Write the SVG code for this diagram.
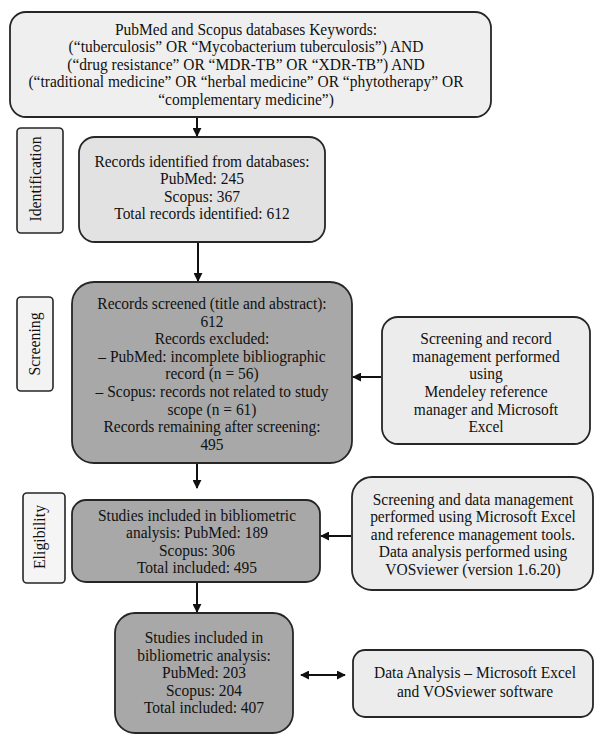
<svg xmlns="http://www.w3.org/2000/svg" width="595" height="735" viewBox="0 0 595 735">
<defs>
<style>
text{font-family:"Liberation Serif","Times New Roman",serif;font-size:17px;fill:#111;text-anchor:middle}
.t{transform-box:fill-box;transform-origin:center;transform:scaleX(0.91)}
.box{stroke:#262626;stroke-width:1.8}
.lbl{stroke:#262626;stroke-width:1.6}
.light{fill:#efefef}
.mid{fill:#e2e2e2}
.dark{fill:#a8a8a8}
.side{fill:#ececec}
.con{stroke:#111;stroke-width:2;fill:none}
</style>
<marker id="ah" viewBox="0 0 10 10" refX="9" refY="5" markerWidth="4.5" markerHeight="4.5" orient="auto-start-reverse" markerUnits="strokeWidth">
<path d="M0,0 L10,5 L0,10 z" fill="#111"/>
</marker>
</defs>
<rect width="595" height="735" fill="#fff"/>

<g id="keywords">
<rect class="box light" x="10" y="12" width="481" height="105" rx="16"/>
<text class="t" x="246" y="35">PubMed and Scopus databases Keywords:</text>
<text class="t" x="246" y="52.5">(“tuberculosis” OR “Mycobacterium tuberculosis”) AND</text>
<text class="t" x="246" y="70">(“drug resistance” OR “MDR-TB” OR “XDR-TB”) AND</text>
<text class="t" x="246" y="87.5">(“traditional medicine” OR “herbal medicine” OR “phytotherapy” OR</text>
<text class="t" x="246" y="105">“complementary medicine”)</text>
</g>

<g id="label-identification">
<rect class="lbl side" x="17" y="128" width="46" height="105" rx="4"/>
<text transform="translate(41,179) rotate(-90) scale(0.93,1)">Identification</text>
</g>

<g id="identified">
<rect class="box mid" x="79" y="137" width="246" height="105" rx="16"/>
<text class="t" x="202" y="167">Records identified from databases:</text>
<text class="t" x="202" y="184.5">PubMed: 245</text>
<text class="t" x="202" y="202">Scopus: 367</text>
<text class="t" x="202" y="219.5">Total records identified: 612</text>
</g>

<g id="label-screening">
<rect class="lbl" fill="#f3f3f3" x="17" y="297" width="36" height="94" rx="4"/>
<text transform="translate(40,344) rotate(-90) scale(0.93,1)">Screening</text>
</g>

<g id="screened">
<rect class="box dark" x="72" y="282" width="280" height="181" rx="22"/>
<text class="t" x="212" y="309">Records screened (title and abstract):</text>
<text class="t" x="212" y="326.6">612</text>
<text class="t" x="212" y="344.2">Records excluded:</text>
<text class="t" x="212" y="361.8">– PubMed: incomplete bibliographic</text>
<text class="t" x="212" y="379.4">record (n = 56)</text>
<text class="t" x="212" y="397">– Scopus: records not related to study</text>
<text class="t" x="212" y="414.6">scope (n = 61)</text>
<text class="t" x="212" y="432.2">Records remaining after screening:</text>
<text class="t" x="212" y="449.8">495</text>
</g>

<g id="screening-tools">
<rect class="box side" x="382" y="317" width="208" height="127" rx="16"/>
<text class="t" x="486" y="344">Screening and record</text>
<text class="t" x="486" y="361.8">management performed</text>
<text class="t" x="486" y="379.4">using</text>
<text class="t" x="486" y="397">Mendeley reference</text>
<text class="t" x="486" y="414.6">manager and Microsoft</text>
<text class="t" x="486" y="432.2">Excel</text>
</g>

<g id="label-eligibility">
<rect class="lbl" fill="#f5f5f5" x="23" y="493" width="42" height="90" rx="4"/>
<text transform="translate(45,537) rotate(-90) scale(0.93,1)">Eligibility</text>
</g>

<g id="eligible">
<rect class="box dark" x="72" y="500" width="248" height="82" rx="14"/>
<text class="t" x="197" y="521">Studies included in bibliometric</text>
<text class="t" x="197" y="538.5">analysis: PubMed: 189</text>
<text class="t" x="197" y="556">Scopus: 306</text>
<text class="t" x="197" y="573.5">Total included: 495</text>
</g>

<g id="eligibility-tools">
<rect class="box side" x="352" y="477" width="241" height="113" rx="20"/>
<text class="t" x="473" y="505">Screening and data management</text>
<text class="t" x="473" y="522.5">performed using Microsoft Excel</text>
<text class="t" x="473" y="540">and reference management tools.</text>
<text class="t" x="473" y="557.5">Data analysis performed using</text>
<text class="t" x="473" y="575">VOSviewer (version 1.6.20)</text>
</g>

<g id="included">
<rect class="box dark" x="115" y="613" width="178" height="120" rx="20"/>
<text class="t" x="204" y="643">Studies included in</text>
<text class="t" x="204" y="661">bibliometric analysis:</text>
<text class="t" x="204" y="678.5">PubMed: 203</text>
<text class="t" x="204" y="696">Scopus: 204</text>
<text class="t" x="204" y="713.5">Total included: 407</text>
</g>

<g id="analysis">
<rect class="box side" x="353" y="650" width="240" height="67" rx="12"/>
<text class="t" x="475" y="678.5">Data Analysis – Microsoft Excel</text>
<text class="t" x="475" y="697">and VOSviewer software</text>
</g>

<g id="connectors">
<line class="con" x1="197" y1="118" x2="197" y2="136" marker-end="url(#ah)"/>
<line class="con" x1="198" y1="243" x2="198" y2="281" marker-end="url(#ah)"/>
<line class="con" x1="381" y1="377" x2="353" y2="377" marker-end="url(#ah)"/>
<line class="con" x1="197" y1="464" x2="197" y2="488" marker-end="url(#ah)"/>
<line class="con" x1="351" y1="536" x2="321" y2="536" marker-end="url(#ah)"/>
<line class="con" x1="197" y1="583" x2="197" y2="612" marker-end="url(#ah)"/>
<line class="con" x1="301" y1="675" x2="345" y2="675" marker-start="url(#ah)" marker-end="url(#ah)"/>
</g>
</svg>
